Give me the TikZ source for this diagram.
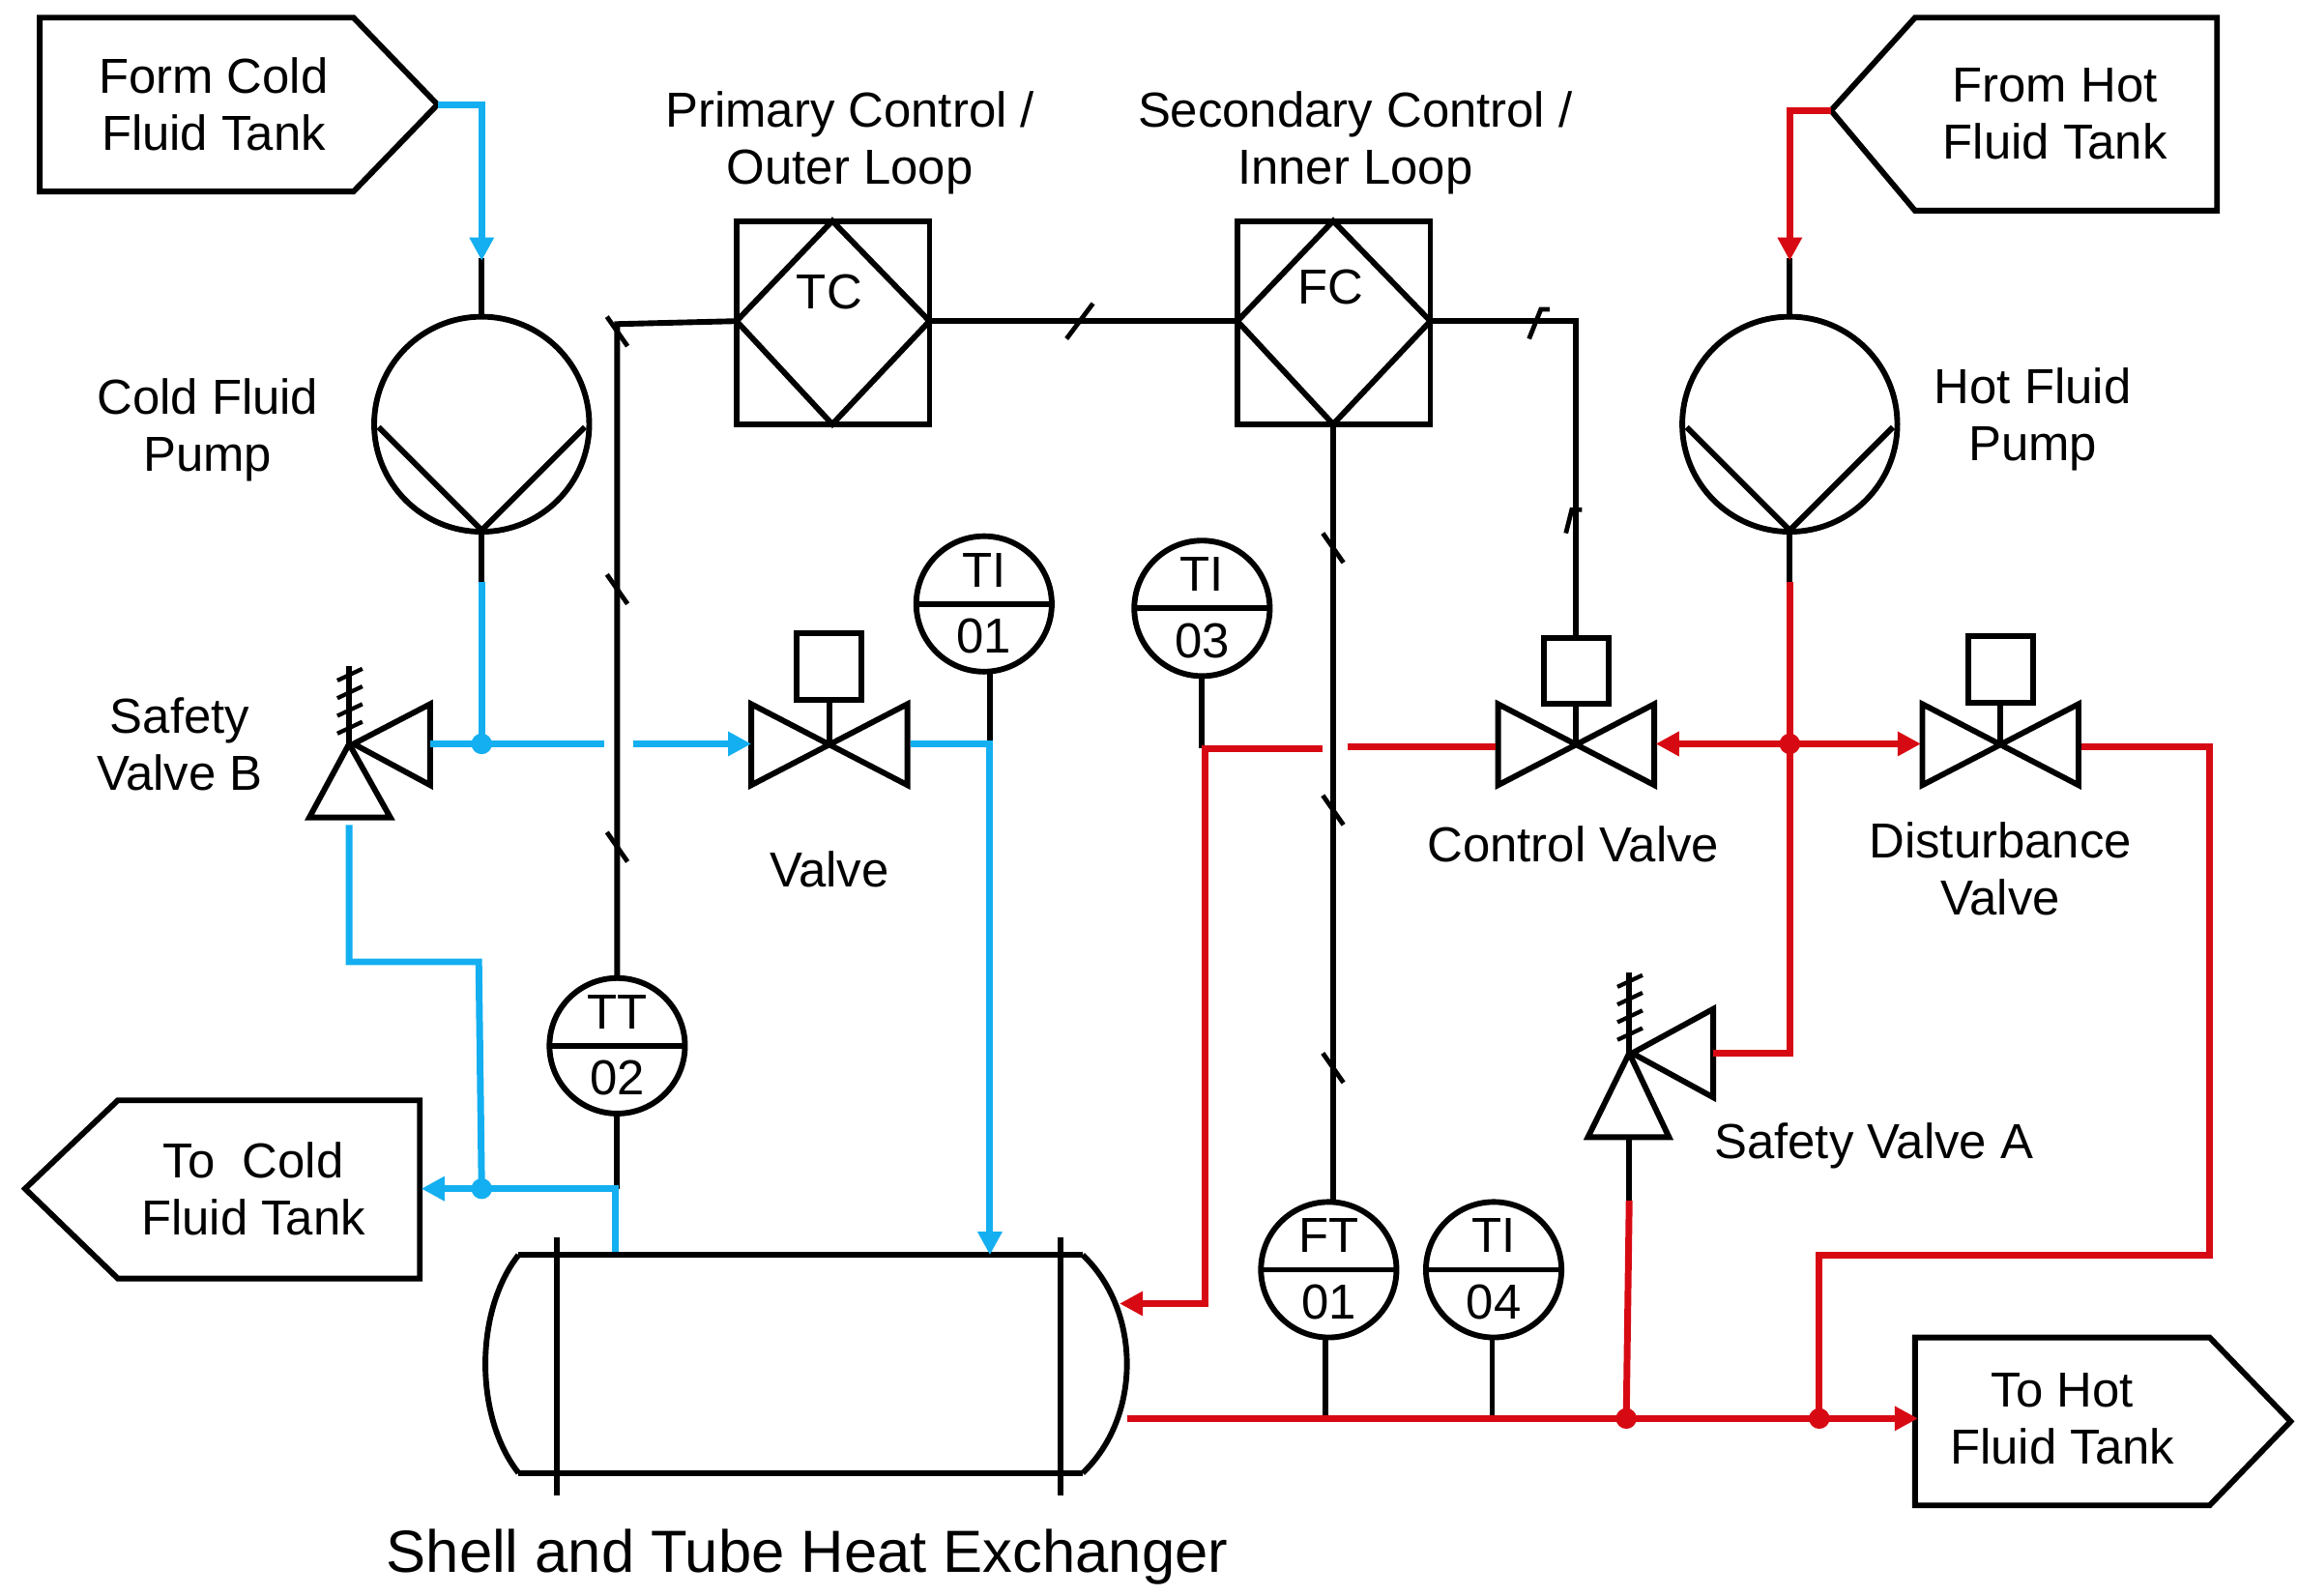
\documentclass[tikz,border=0pt]{standalone}
\usepackage{fontspec}
\setmainfont{Liberation Sans}
\usetikzlibrary{arrows.meta}
\definecolor{cold}{RGB}{20,175,240}
\definecolor{hot}{RGB}{215,10,20}
\begin{document}
\begin{tikzpicture}[x=0.02cm,y=-0.02cm,line width=2.2pt,
  lbl/.style={font=\fontsize{19}{22}\selectfont,align=center,inner sep=0},
  cl/.style={cold,line width=2.6pt},
  hl/.style={hot,line width=2.6pt},
  arr/.style={-{Triangle[length=9pt,width=9pt]}},
  dot/.style={circle,fill,inner sep=0,minimum size=8pt},
  inst/.style={circle,draw,line width=2.2pt,minimum size=1.84cm,inner sep=0}]
\useasboundingbox (0,0) rectangle (1560,1083);
% ---- tanks
\draw (27,12)--(240,12)--(297,71)--(240,130)--(27,130)--cycle;
\node[lbl] at (145,71) {Form Cold\\Fluid Tank};
\draw (1505,12)--(1300,12)--(1243,75)--(1300,143)--(1505,143)--cycle;
\node[lbl] at (1395,77) {From Hot\\Fluid Tank};
\draw (285,747)--(80,747)--(17,807)--(80,868)--(285,868)--cycle;
\node[lbl] at (172,807) {To\ \ Cold\\Fluid Tank};
\draw (1300,908)--(1500,908)--(1555,965)--(1500,1022)--(1300,1022)--cycle;
\node[lbl] at (1400,963) {To Hot\\Fluid Tank};
% ---- pumps
\foreach \x in {327,1215}{
  \draw (\x,288) circle (73);
  \draw (\x-70,290)--(\x,360)--(\x+70,290);
  \draw (\x,175)--(\x,215) (\x,360)--(\x,395);}
\node[lbl] at (141,292) {Cold Fluid\\Pump};
\node[lbl] at (1380,285) {Hot Fluid\\Pump};
% ---- valves (bowtie + actuator)
\foreach \c/\b in {563/430,1070/433,1358/432}{
  \draw (\c-53,478)--(\c-53,533)--(\c+53,478)--(\c+53,533)--cycle;
  \draw (\c,505)--(\c,\b+45);
  \draw (\c-22,\b) rectangle (\c+22,\b+45);}
\node[lbl] at (563,590) {Valve};
\node[lbl] at (1068,573) {Control Valve};
\node[lbl] at (1358,590) {Disturbance\\Valve};
% ---- safety valves
\draw (292,478)--(292,533)--(240,505)--cycle;
\draw (210,555)--(265,555)--(237,505)--cycle;
\draw (237,452)--(237,505);
\foreach \y in {458,470,482,494}\draw[line width=1.6pt] (229,\y+4)--(246,\y-4);
\node[lbl] at (122,505) {Safety\\Valve B};
\draw (1163,685)--(1163,745)--(1108,715)--cycle;
\draw (1078,772)--(1133,772)--(1106,715)--cycle;
\draw (1106,660)--(1106,715);
\draw (1106,772)--(1106,815);
\foreach \y in {666,678,690,702}\draw[line width=1.6pt] (1098,\y+4)--(1115,\y-4);
\node[lbl] at (1272,778) {Safety Valve A};
% ---- controllers
\foreach \x/\t/\ty in {500/TC/198,840/FC/195}{
  \draw (\x,150) rectangle (\x+131,288);
  \draw (\x+65,150)--(\x+131,218)--(\x+65,288)--(\x,218)--cycle;
  \node[lbl] at (\x+63,\ty) {\t};}
\node[lbl] at (577,97) {Primary Control /\\Outer Loop};
\node[lbl] at (920,97) {Secondary Control /\\Inner Loop};
% ---- signal lines
\draw (419,663)--(419,220)--(500,218);
\draw (631,218)--(840,218);
\draw (971,218)--(1070,218)--(1070,433);
\draw (905,288)--(905,817);
\foreach \x/\y in {419/400,419/575,905/372,905/550,905/725,419/225}
  \draw[line width=1.8pt] (\x-7,\y-10)--(\x+7,\y+10);
\draw[line width=1.8pt] (724,230)--(742,206);
\draw[line width=1.8pt] (1038,230)--(1046,210)--(1052,210);
\draw[line width=1.8pt] (1063,362)--(1067,346)--(1074,346);
% ---- instruments
\foreach \x/\y/\a/\b in {668/410/TI/01,816/413/TI/03,419/710/TT/02,902/862/FT/01,1014/862/TI/04}{
  \node[inst] at (\x,\y) {};
  \draw (\x-46,\y)--(\x+46,\y);
  \node[lbl] at (\x,\y-23) {\a};
  \node[lbl] at (\x,\y+22) {\b};}
\draw (672,457)--(672,505);
\draw (816,459)--(816,508);
\draw (419,756)--(419,807);
\draw (900,907)--(900,963);
\draw (1013,908)--(1013,963);
% ---- heat exchanger
\draw (352,852)--(735,852) (352,1000)--(735,1000);
\draw (352,852) .. controls (322,890) and (322,962) .. (352,1000);
\draw (735,852) .. controls (775,890) and (775,962) .. (735,1000);
\draw (378,840)--(378,1015) (720,840)--(720,1015);
\node[lbl,font=\fontsize{23}{26}\selectfont] at (548,1057) {Shell and Tube Heat Exchanger};
% ---- cold lines
\draw[cl,arr] (297,71)--(327,71)--(327,177);
\draw[cl] (327,395)--(327,505);
\draw[cl] (292,505)--(410,505);
\draw[cl,arr] (430,505)--(510,505);
\draw[cl,arr] (618,505)--(672,505)--(672,852);
\draw[cl] (237,560)--(237,653)--(325,653)--(327,807);
\draw[cl,arr] (418,850)--(418,807)--(286,807);
\node[dot,cold] at (327,505) {};
\node[dot,cold] at (327,807) {};
% ---- hot lines
\draw[hl,arr] (1243,75)--(1215,75)--(1215,177);
\draw[hl] (1215,395)--(1215,715)--(1163,715);
\draw[hl,arr] (1215,505)--(1124,505);
\draw[hl,arr] (1215,505)--(1304,505);
\draw[hl] (1015,507)--(915,507);
\draw[hl,arr] (898,508)--(818,508)--(818,885)--(760,885);
\draw[hl] (1413,507)--(1500,507)--(1500,852)--(1235,852)--(1235,963);
\draw[hl] (1106,815)--(1104,963);
\draw[hl,arr] (765,963)--(1302,963);
\node[dot,hot] at (1215,505) {};
\node[dot,hot] at (1104,963) {};
\node[dot,hot] at (1235,963) {};
\end{tikzpicture}
\end{document}
